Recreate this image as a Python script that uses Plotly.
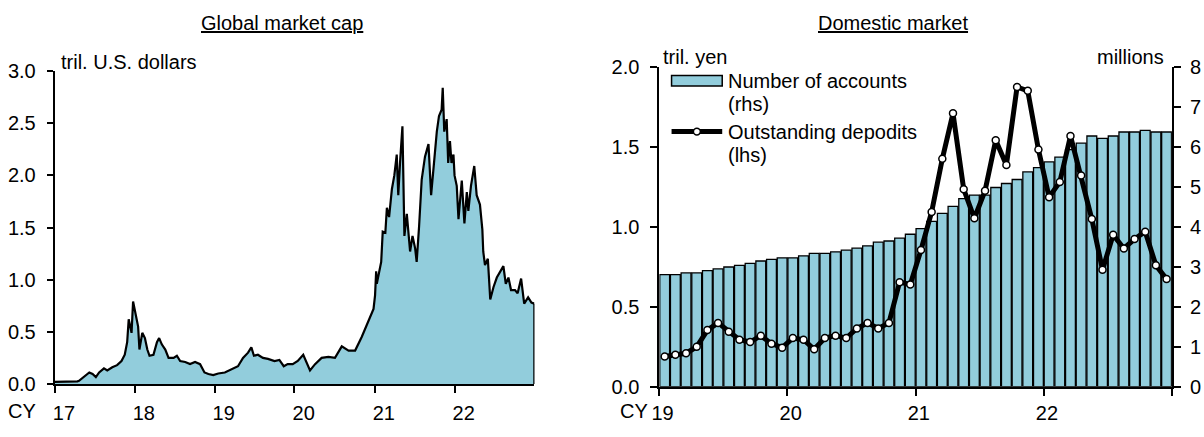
import plotly.graph_objects as go

# ---------------- data ----------------
# Left panel: global crypto-asset market cap (tril. U.S. dollars)
gm_dates = [
    "2017-01-01", "2017-02-15", "2017-04-01", "2017-04-15", "2017-04-22", "2017-05-08", "2017-05-23",
    "2017-06-08", "2017-06-23", "2017-07-08", "2017-07-23", "2017-08-14", "2017-08-29", "2017-09-21",
    "2017-10-13", "2017-11-02", "2017-11-17", "2017-11-28", "2017-12-05", "2017-12-18", "2017-12-25",
    "2018-01-02", "2018-01-08", "2018-01-17", "2018-01-23", "2018-02-05", "2018-02-17", "2018-02-28",
    "2018-03-10", "2018-03-28", "2018-04-13", "2018-04-23", "2018-05-05", "2018-05-21", "2018-06-05",
    "2018-06-28", "2018-07-13", "2018-07-28", "2018-08-20", "2018-09-11", "2018-10-04", "2018-10-27",
    "2018-11-16", "2018-12-04", "2018-12-26", "2019-01-18", "2019-02-17", "2019-03-19", "2019-04-18",
    "2019-05-11", "2019-06-03", "2019-06-18", "2019-06-30", "2019-07-18", "2019-08-10", "2019-09-02",
    "2019-10-02", "2019-10-24", "2019-11-13", "2019-12-01", "2019-12-24", "2020-01-16", "2020-02-10",
    "2020-03-12", "2020-04-04", "2020-05-04", "2020-06-04", "2020-07-04", "2020-08-04", "2020-09-04",
    "2020-10-04", "2020-11-03", "2020-12-03", "2020-12-27", "2021-01-03", "2021-01-08", "2021-01-11",
    "2021-01-31", "2021-02-07", "2021-02-19", "2021-02-26", "2021-03-08", "2021-03-21", "2021-04-01",
    "2021-04-12", "2021-04-19", "2021-04-27", "2021-05-08", "2021-05-17", "2021-05-28", "2021-06-12",
    "2021-06-23", "2021-07-05", "2021-07-12", "2021-07-23", "2021-08-04", "2021-08-19", "2021-09-04",
    "2021-09-16", "2021-09-26", "2021-10-12", "2021-10-22", "2021-11-03", "2021-11-08", "2021-11-15",
    "2021-11-26", "2021-12-03", "2021-12-11", "2021-12-18", "2021-12-27", "2022-01-01", "2022-01-11",
    "2022-01-19", "2022-02-03", "2022-02-15", "2022-02-26", "2022-03-05", "2022-03-17", "2022-04-01",
    "2022-04-12", "2022-04-27", "2022-05-08", "2022-05-12", "2022-05-20", "2022-06-02", "2022-06-13",
    "2022-06-28", "2022-07-13", "2022-07-28", "2022-08-12", "2022-08-23", "2022-09-04", "2022-09-16",
    "2022-10-04", "2022-10-16", "2022-11-01", "2022-11-15", "2022-12-03", "2022-12-18", "2022-12-31",
]
gm_values = [
    0.02, 0.02, 0.02, 0.025, 0.03, 0.06, 0.085,
    0.11, 0.095, 0.065, 0.11, 0.15, 0.13, 0.16,
    0.18, 0.22, 0.28, 0.40, 0.62, 0.49, 0.79,
    0.71, 0.62, 0.55, 0.33, 0.49, 0.44, 0.33,
    0.27, 0.28, 0.40, 0.44, 0.38, 0.33, 0.25,
    0.25, 0.27, 0.22, 0.21, 0.19, 0.21, 0.19,
    0.11, 0.095, 0.085, 0.10, 0.11, 0.14, 0.17,
    0.25, 0.30, 0.35, 0.27, 0.28, 0.25, 0.24,
    0.22, 0.23, 0.17, 0.19, 0.19, 0.22, 0.28,
    0.13, 0.19, 0.25, 0.26, 0.25, 0.36, 0.32,
    0.32, 0.45, 0.60, 0.72, 0.85, 1.08, 0.96,
    1.17, 1.46, 1.45, 1.69, 1.60, 1.87, 2.00,
    2.20, 1.81, 2.12, 2.47, 1.42, 1.63, 1.27,
    1.42, 1.30, 1.17, 1.51, 1.96, 2.18, 2.30,
    1.81, 2.06, 2.42, 2.57, 2.63, 2.84, 2.42,
    2.54, 2.12, 2.33, 2.12, 2.20, 2.00, 1.90,
    1.58, 1.95, 1.54, 1.84, 1.66, 1.90, 2.09,
    1.81, 1.72, 1.48, 1.27, 1.14, 1.20, 0.81,
    0.93, 1.02, 1.08, 1.13, 0.96, 1.02, 0.90,
    0.90, 0.87, 1.01, 0.77, 0.83, 0.78, 0.77,
]

# Right panel: domestic market, monthly Jan-2019 .. Dec-2022
months = [f"{y}-{m:02d}" for y in range(2019, 2023) for m in range(1, 13)]
accounts_mn = [  # Number of accounts, millions (rhs)
    2.81, 2.81, 2.85, 2.85, 2.91, 2.95, 3.00, 3.04, 3.09, 3.15, 3.19, 3.23,
    3.23, 3.28, 3.34, 3.34, 3.38, 3.42, 3.47, 3.53, 3.62, 3.65, 3.72, 3.82,
    3.96, 4.14, 4.34, 4.52, 4.71, 4.80, 4.80, 4.99, 5.09, 5.19, 5.38, 5.49,
    5.63, 5.75, 5.94, 6.10, 6.28, 6.22, 6.28, 6.38, 6.38, 6.42, 6.38, 6.38,
]
deposits_tril = [  # Outstanding deposits, tril. yen (lhs)
    0.19, 0.20, 0.21, 0.25, 0.355, 0.40, 0.345, 0.295, 0.28, 0.32, 0.27, 0.245,
    0.305, 0.295, 0.235, 0.305, 0.32, 0.305, 0.365, 0.40, 0.365, 0.40, 0.655, 0.64,
    0.856, 1.094, 1.427, 1.712, 1.237, 1.055, 1.227, 1.544, 1.389, 1.877, 1.853, 1.485,
    1.187, 1.282, 1.570, 1.322, 1.050, 0.733, 0.951, 0.866, 0.925, 0.971, 0.761, 0.674,
]

left_year_labels = ["17", "18", "19", "20", "21", "22"]
right_year_labels = ["19", "20", "21", "22"]

# ---------------- styling ----------------
FONT = "Liberation Sans, Arial, sans-serif"
FS = 20
BLUE = "rgb(146,205,220)"
W, H = 1204, 437

def px_x(p):
    return p / W

def px_y(p):
    return 1 - p / H

fig = go.Figure()

# Left: area
fig.add_trace(go.Scatter(
    x=gm_dates, y=gm_values, mode="lines", fill="tozeroy", fillcolor=BLUE,
    line=dict(color="black", width=2.2), xaxis="x", yaxis="y", showlegend=False,
    hoverinfo="skip",
))

# Right: bars (rhs) on base axis y2 (right side)
idx = list(range(len(months)))
fig.add_trace(go.Bar(
    x=idx, y=accounts_mn, marker=dict(color=BLUE, line=dict(color="black", width=1.3)),
    xaxis="x2", yaxis="y2", showlegend=False, hoverinfo="skip",
))
# Right: line (lhs) on overlaying axis y3 (left side) -> drawn above bars
fig.add_trace(go.Scatter(
    x=idx, y=deposits_tril, mode="lines+markers",
    line=dict(color="black", width=5),
    marker=dict(symbol="circle", size=7, color="white", line=dict(color="black", width=1.5)),
    xaxis="x2", yaxis="y3", showlegend=False, hoverinfo="skip",
))

# closing vertical edge of the area at the last observation
fig.add_shape(type="line", xref="x", yref="y", x0=gm_dates[-1], x1=gm_dates[-1],
              y0=0, y1=gm_values[-1], line=dict(color="black", width=2))

left_dom = [px_x(47), px_x(530)]
right_dom = [px_x(655.7), px_x(1171.7)]

axis_common = dict(showgrid=False, zeroline=False, showline=True, linecolor="black", linewidth=2,
                   tickfont=dict(family=FONT, size=FS, color="black"), tickcolor="black", tickwidth=2)

left_ticks_pos = [f"{2000 + int(l)}-02-12" for l in left_year_labels]
left_minor = [f"{2000 + int(l)}-01-01" for l in left_year_labels]

right_ticks_pos = [12 * i - 0.2 for i in range(len(right_year_labels))]
right_minor = [12 * i - 0.5 for i in range(len(right_year_labels) + 1)]

fig.update_layout(
    width=W, height=H, margin=dict(l=0, r=0, t=0, b=0),
    paper_bgcolor="white", plot_bgcolor="rgba(0,0,0,0)",
    font=dict(family=FONT, size=FS, color="black"),
    bargap=0.08,
    xaxis=dict(axis_common, domain=left_dom, anchor="y", type="date",
               range=["2017-01-01", "2023-01-01"],
               tickmode="array", tickvals=left_ticks_pos, ticktext=left_year_labels,
               ticks="", ticklabelstandoff=10,
               minor=dict(tickmode="array", tickvals=left_minor, ticks="outside",
                          ticklen=7, tickwidth=2, tickcolor="black")),
    yaxis=dict(axis_common, domain=[px_y(392.7), px_y(63.3)], anchor="x", range=[0, 3],
               tickmode="array", tickvals=[0, 0.5, 1, 1.5, 2, 2.5, 3],
               ticktext=["0.0", "0.5", "1.0", "1.5", "2.0", "2.5", "3.0"],
               ticks="outside", ticklen=6, ticklabelstandoff=7),
    xaxis2=dict(axis_common, domain=right_dom, anchor="y2", range=[-0.5, len(months) - 0.5],
                tickmode="array", tickvals=right_ticks_pos, ticktext=right_year_labels,
                ticks="", ticklabelstandoff=7,
                minor=dict(tickmode="array", tickvals=right_minor, ticks="outside",
                           ticklen=7, tickwidth=2, tickcolor="black")),
    yaxis2=dict(axis_common, domain=[px_y(395.7), px_y(59.3)], anchor="x2", side="right",
                range=[0, 8], tickmode="array", tickvals=list(range(9)),
                ticks="outside", ticklen=7, ticklabelstandoff=5),
    yaxis3=dict(axis_common, domain=[px_y(395.7), px_y(59.3)], anchor="x2", overlaying="y2",
                side="left", range=[0, 2], tickmode="array", tickvals=[0, 0.5, 1, 1.5, 2],
                ticktext=["0.0", "0.5", "1.0", "1.5", "2.0"],
                ticks="outside", ticklen=7, ticklabelstandoff=7),
)

ann = []
def text(x, y, s, xanchor="center", yanchor="middle", size=FS):
    ann.append(dict(x=px_x(x), y=px_y(y), xref="paper", yref="paper", text=s, showarrow=False,
                    xanchor=xanchor, yanchor=yanchor, font=dict(family=FONT, size=size, color="black")))

text(276, 13, "<u>Global market cap</u>")
text(891, 13, "<u>Domestic market</u>")
text(51, 54, "tril. U.S. dollars", xanchor="left")
text(657, 48, "tril. yen", xanchor="left")
text(1166, 48, "millions", xanchor="right")
text(14, 421, "CY")
text(630, 421, "CY")

# legend (manual, top-left of right panel)
text(723, 74, "Number of accounts", xanchor="left")
text(723, 98, "(rhs)", xanchor="left")
text(723, 127, "Outstanding depodits", xanchor="left")
text(723, 152, "(lhs)", xanchor="left")
fig.update_layout(annotations=ann)

fig.add_shape(type="rect", xref="paper", yref="paper", x0=px_x(668), x1=px_x(719),
              y0=px_y(79), y1=px_y(68), fillcolor=BLUE, line=dict(color="black", width=1.5))
fig.add_shape(type="line", xref="paper", yref="paper", x0=px_x(668), x1=px_x(719),
              y0=px_y(127), y1=px_y(127), line=dict(color="black", width=5))
fig.add_shape(type="circle", xref="paper", yref="paper", x0=px_x(690), x1=px_x(697),
              y0=px_y(130.5), y1=px_y(123.5), fillcolor="white", line=dict(color="black", width=1.5))

fig.write_html("out.html", config={"displayModeBar": False},
               post_script="document.body.style.margin='0';document.body.style.padding='0';")
